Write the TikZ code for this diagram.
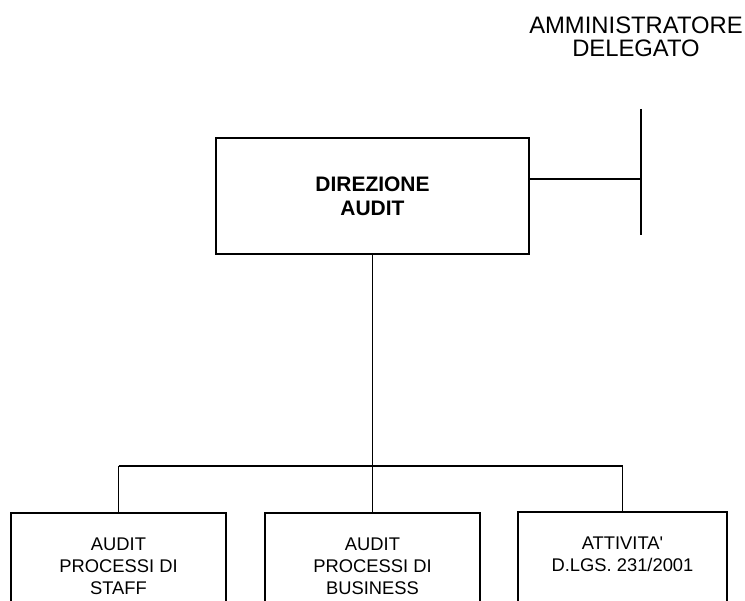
\documentclass[tikz,border=0pt]{standalone}
\usepackage{fontspec}
\setmainfont{Liberation Sans}
\tikzset{
    orgbox/.style={draw, line width=0.9pt, align=center, inner sep=0pt},
    subbox/.style={orgbox, anchor=north, minimum width=3.87cm, minimum height=1.908cm,
        font=\fontsize{9.4}{11.3}\selectfont},
}

\begin{document}
\begin{tikzpicture}[x=0.018cm, y=-0.018cm, line width=0.9pt]
        \clip (0,0) rectangle (745,601);
        % vertice
        \node[align=center, font=\fontsize{12.2}{11.8}\selectfont] (ad) at (636,37) {AMMINISTRATORE\\DELEGATO};
        \coordinate (adtop) at (641,109);
        \coordinate (adbot) at (641,235);
        \coordinate (adjoin) at (641,179);
        \draw (adtop) -- (adbot);
        % direzione
        \node[orgbox, minimum width=5.634cm, minimum height=2.088cm,
            font=\fontsize{10.75}{12.4}\selectfont\bfseries] (dir) at (372.5,196) {DIREZIONE\\AUDIT};
        \draw (dir.east |- adjoin) -- (adjoin);
        % uffici
        \node[subbox] (staff) at (118.5,512) {AUDIT\\PROCESSI DI\\STAFF};
        \node[subbox] (business) at (372.5,512) {AUDIT\\PROCESSI DI\\BUSINESS};
        \node[subbox, minimum width=3.762cm] (dlgs) at (622.5,511) {ATTIVITA\textquotesingle\\D.LGS. 231/2001\\\mbox{}};
        \coordinate (bus) at (372.5,466);
        \draw (dir.south) -- (dir.south |- bus);
        \draw (staff.north |- bus) -- (dlgs.north |- bus);
        \foreach \b in {staff,business,dlgs}{
            \draw (\b.north |- bus) -- (\b.north);
        }
    \end{tikzpicture}
\end{document}
